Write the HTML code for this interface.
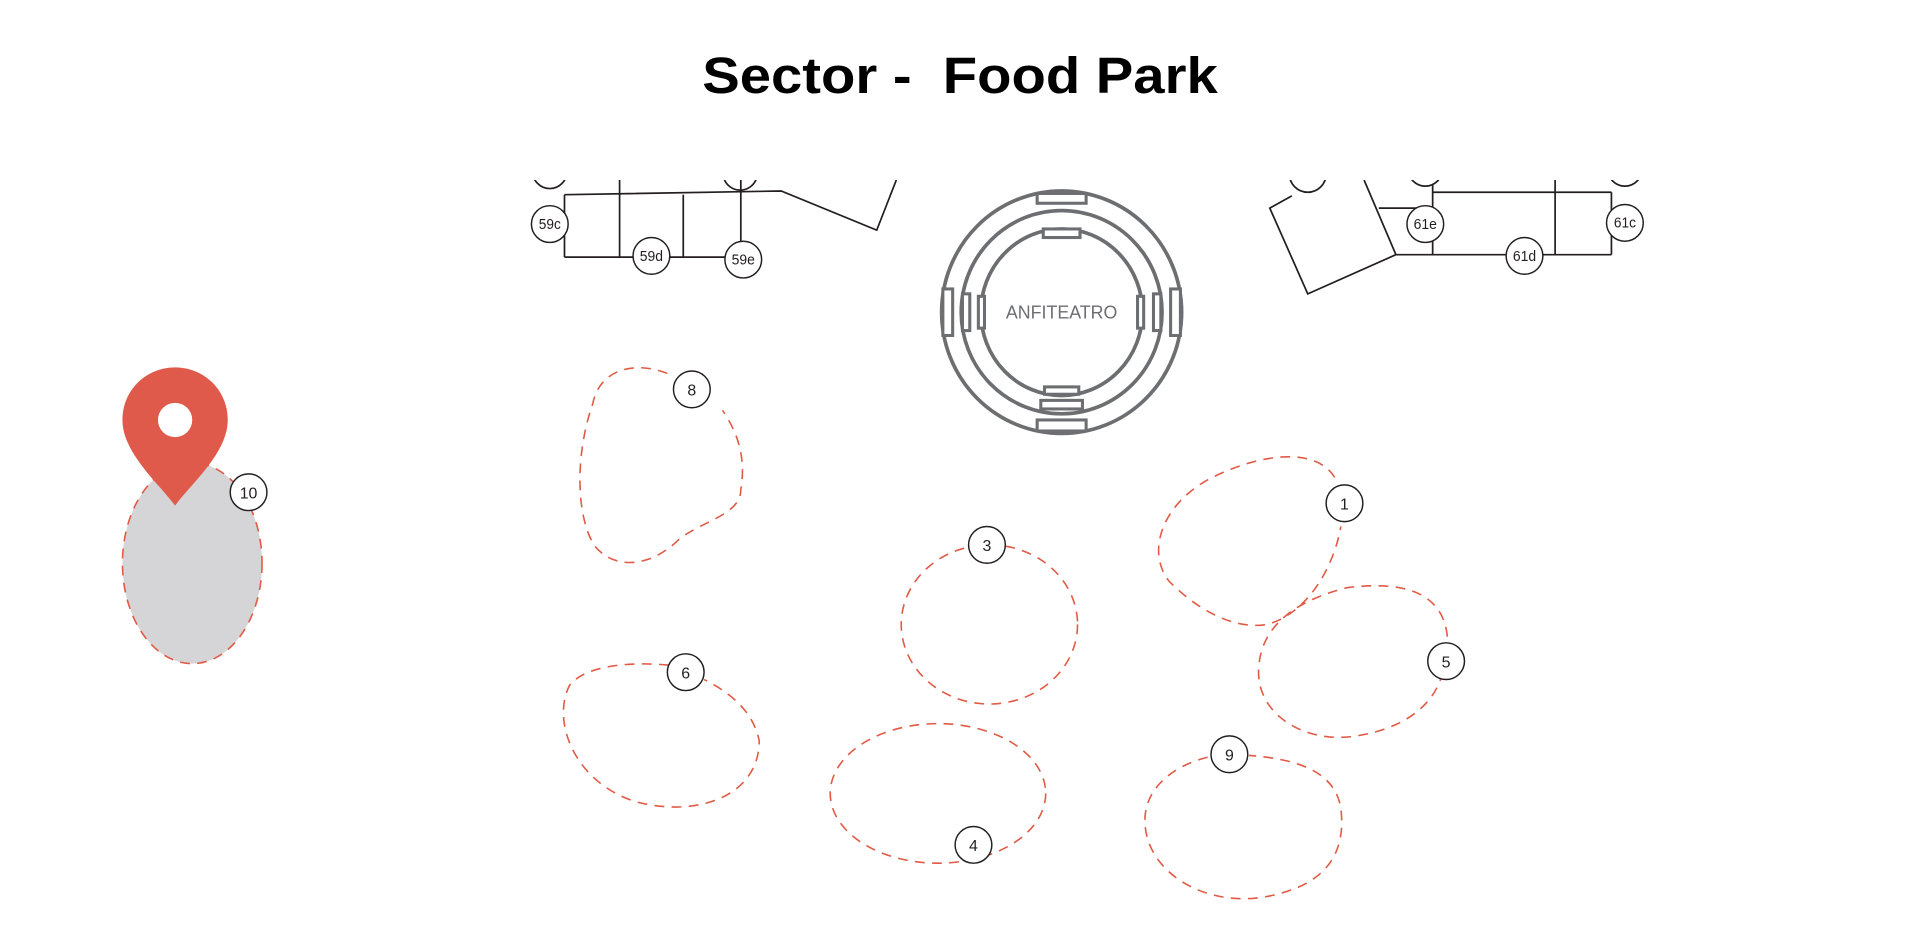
<!DOCTYPE html>
<html><head><meta charset="utf-8"><style>
html,body{margin:0;padding:0;background:#fff;width:1920px;height:944px;overflow:hidden}
svg{display:block}
text{font-family:"Liberation Sans",sans-serif}
</style></head><body>
<svg width="1920" height="944" viewBox="0 0 1568 771" preserveAspectRatio="none">
<defs><clipPath id="c"><rect x="0" y="147" width="1568" height="700"/></clipPath></defs>
<text x="784" y="76" text-anchor="middle" font-size="42" font-weight="bold" xml:space="preserve" textLength="421" lengthAdjust="spacingAndGlyphs">Sector -  Food Park</text>

<g clip-path="url(#c)" stroke="#231f20" stroke-width="1.4" fill="none">
<polyline points="461,159 638,156 716,188 732,147"/>
<line x1="461" y1="159" x2="461" y2="210"/><line x1="461" y1="210" x2="620" y2="210"/>
<line x1="506" y1="147" x2="506" y2="210"/><line x1="558" y1="159" x2="558" y2="210"/>
<line x1="605" y1="147" x2="605" y2="210"/>
<circle cx="449" cy="140" r="14" fill="#fff"/><path d="M591,145 A14,14 0 0 0 618,145" />
<polyline points="1055,160 1037,170 1068,240 1140,208 1114,147"/>
<line x1="1126" y1="170" x2="1170" y2="170"/>
<line x1="1170" y1="157" x2="1316" y2="157"/><line x1="1140" y1="208" x2="1316" y2="208"/>
<line x1="1170" y1="147" x2="1170" y2="208"/><line x1="1270" y1="147" x2="1270" y2="208"/><line x1="1316" y1="157" x2="1316" y2="208"/>
<circle cx="1068" cy="142" r="15" fill="#fff"/><circle cx="1164" cy="138" r="14" fill="#fff"/><circle cx="1327" cy="138" r="14" fill="#fff"/>
</g>
<g stroke="#231f20" stroke-width="1.2" fill="#fff">
<circle cx="449" cy="183" r="15"/><circle cx="532" cy="209" r="15"/><circle cx="607" cy="212" r="15"/>
<circle cx="1164" cy="183" r="15"/><circle cx="1245" cy="209" r="15"/><circle cx="1327" cy="182" r="15"/>
</g>
<g font-size="12" text-anchor="middle" fill="#231f20">
<text x="449" y="187" textLength="18" lengthAdjust="spacingAndGlyphs">59c</text><text x="532" y="213" textLength="19" lengthAdjust="spacingAndGlyphs">59d</text><text x="607" y="216" textLength="19" lengthAdjust="spacingAndGlyphs">59e</text>
<text x="1164" y="187" textLength="19" lengthAdjust="spacingAndGlyphs">61e</text><text x="1245" y="213" textLength="19" lengthAdjust="spacingAndGlyphs">61d</text><text x="1327" y="186" textLength="18" lengthAdjust="spacingAndGlyphs">61c</text>
</g>

<g stroke="#6d6e71" stroke-width="3" fill="none">
<ellipse cx="867" cy="255" rx="98" ry="99"/>
<ellipse cx="867" cy="255" rx="82" ry="83"/>
<ellipse cx="867" cy="255" rx="66" ry="68"/>
</g>
<g stroke="#6d6e71" stroke-width="2.5" fill="#fff">
<rect x="847" y="158" width="40" height="8"/><rect x="852" y="187" width="30" height="7"/>
<rect x="853" y="316" width="28" height="6"/><rect x="850" y="327" width="34" height="7"/><rect x="847" y="343" width="40" height="9"/>
<rect x="770" y="236" width="8" height="38"/><rect x="786" y="240" width="6" height="30"/><rect x="799" y="242" width="5" height="26"/>
<rect x="956" y="236" width="8" height="38"/><rect x="942" y="240" width="6" height="30"/><rect x="929" y="242" width="5" height="26"/>
</g>
<text x="867" y="260" text-anchor="middle" font-size="15" fill="#6d6e71" textLength="91" lengthAdjust="spacingAndGlyphs">ANFITEATRO</text>

<ellipse cx="157" cy="460" rx="57" ry="82" fill="#d5d5d7" stroke="#e05a45" stroke-width="1.3" stroke-dasharray="8 6"/>
<g fill="none" stroke="#e05a45" stroke-width="1.3" stroke-dasharray="8 6">
<path d="M545,305 C520,295 490,300 484,330 C470,370 470,420 485,445 C500,465 530,465 555,440 C575,425 605,420 605,400 C610,370 600,350 590,335"/>
<path d="M1090,390 C1075,365 1030,370 990,390 C950,410 935,450 955,475 C975,495 1005,515 1035,510 C1070,500 1090,460 1095,430"/>
<ellipse cx="808" cy="510" rx="72" ry="65"/>
<path d="M1182,520 C1178,480 1140,475 1100,480 C1060,490 1030,510 1028,545 C1025,580 1060,605 1100,602 C1140,598 1170,580 1178,550"/>
<path d="M560,545 C530,540 480,540 465,560 C450,590 470,640 520,655 C570,668 620,650 620,605 C615,580 595,565 575,555"/>
<ellipse cx="766" cy="648" rx="88" ry="57"/>
<path d="M1000,616 C965,620 935,640 935,670 C935,710 980,740 1030,733 C1080,725 1100,700 1095,660 C1090,630 1060,620 1020,617"/>
</g>

<path d="M143,413 C130,395 100,370 100,343 C100,318 120,300 143,300 C166,300 186,318 186,343 C186,370 156,395 143,413 Z" fill="#e05a4b"/>
<circle cx="143" cy="343" r="14" fill="#fff"/>

<g stroke="#231f20" stroke-width="1.2" fill="#fff">
<circle cx="565" cy="318" r="15"/><circle cx="203" cy="402" r="15"/><circle cx="1098" cy="411" r="15"/>
<circle cx="806" cy="445" r="15"/><circle cx="1181" cy="540" r="15"/><circle cx="560" cy="549" r="15"/>
<circle cx="795" cy="690" r="15"/><circle cx="1004" cy="616" r="15"/>
</g>
<g font-size="13" text-anchor="middle" fill="#231f20">
<text x="565" y="323">8</text><text x="203" y="407">10</text><text x="1098" y="416">1</text>
<text x="806" y="450">3</text><text x="1181" y="545">5</text><text x="560" y="554">6</text>
<text x="795" y="695">4</text><text x="1004" y="621">9</text>
</g>
</svg>
</body></html>
